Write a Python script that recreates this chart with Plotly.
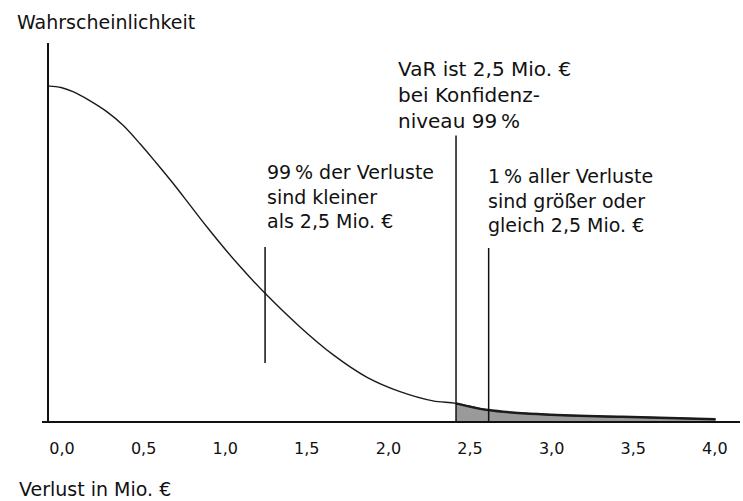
import plotly.graph_objects as go

# --- data ---
loss = [0.0, 0.08, 0.153, 0.25, 0.362, 0.46, 0.564, 0.66, 0.766, 0.87, 0.974,
        1.158, 1.330, 1.544, 1.746, 1.955, 2.157, 2.359, 2.5, 2.696, 3.02,
        3.52, 4.09]
prob = [0.399, 0.397, 0.392, 0.382, 0.368, 0.352, 0.330, 0.308, 0.283, 0.257,
        0.231, 0.188, 0.152, 0.112, 0.079, 0.052, 0.035, 0.024, 0.021, 0.013,
        0.008, 0.005, 0.002]

var_level = 2.5
tick_vals = [0.0, 0.5, 1.0, 1.5, 2.0, 2.5, 3.0, 3.5, 4.0]
tick_text = ["0,0", "0,5", "1,0", "1,5", "2,0", "2,5", "3,0", "3,5", "4,0"]

# leader lines: x, y_bottom, y_top
lead_x = [1.33, 2.5, 2.70]
lead_y0 = [0.069, 0.0, 0.0]
lead_y1 = [0.207, 0.340, 0.206]

texts = [
    "99\u2009% der Verluste<br>sind kleiner<br>als 2,5 Mio. €",
    "VaR ist 2,5 Mio. €<br>bei Konfidenz-<br>niveau 99\u2009%",
    "1\u2009% aller Verluste<br>sind größer oder<br>gleich 2,5 Mio. €",
]
text_x = [1.33, 2.132, 2.684]
text_y = [0.2667, 0.388, 0.263]
text_size = [19, 20, 19]

FONT = "DejaVu Sans"
INK = "#111111"

tail_x = [x for x in loss if x >= var_level]
tail_y = [y for x, y in zip(loss, prob) if x >= var_level]

fig = go.Figure()
# shaded tail
fig.add_trace(go.Scatter(
    x=tail_x, y=tail_y, mode="lines", fill="tozeroy",
    fillcolor="#9a9a9a", line=dict(color="#222222", width=2.5, shape="spline"),
    hoverinfo="skip", showlegend=False))
# density curve
fig.add_trace(go.Scatter(
    x=loss, y=prob, mode="lines",
    line=dict(color="#1a1a1a", width=1.4, shape="spline", smoothing=0.9),
    hoverinfo="skip", showlegend=False))
# leader lines
for lx, y0, y1 in zip(lead_x, lead_y0, lead_y1):
    fig.add_trace(go.Scatter(
        x=[lx, lx], y=[y0, y1], mode="lines",
        line=dict(color="#111111", width=1.5),
        hoverinfo="skip", showlegend=False))

# y axis line at x = 0
fig.add_shape(type="line", xref="x", yref="paper", x0=0, x1=0, y0=0, y1=1,
              line=dict(color="#111111", width=2))

for t, tx, ty, ts in zip(texts, text_x, text_y, text_size):
    fig.add_annotation(x=tx, y=ty, xref="x", yref="y", text=t, showarrow=False,
                       xanchor="left", yanchor="middle", align="left",
                       font=dict(family=FONT, size=ts, color=INK))

fig.add_annotation(x=-0.0387, y=1.0556, xref="paper", yref="paper",
                   text="Wahrscheinlichkeit", showarrow=False,
                   xanchor="left", yanchor="middle",
                   font=dict(family=FONT, size=19, color=INK))
fig.add_annotation(x=-0.0358, y=-0.18, xref="paper", yref="paper",
                   text="Verlust in Mio. €", showarrow=False,
                   xanchor="left", yanchor="middle",
                   font=dict(family=FONT, size=19, color=INK))

fig.update_layout(
    width=743, height=501,
    margin=dict(l=42, r=3, t=43, b=80),
    paper_bgcolor="white", plot_bgcolor="white",
    xaxis=dict(range=[-0.0368, 4.240], showgrid=False, zeroline=False,
               showline=True, linecolor="#111111", linewidth=2,
               tickvals=tick_vals, ticktext=tick_text, ticks="",
               ticklabelshift=14, ticklabelstandoff=12,
               tickfont=dict(family=FONT, size=16, color=INK)),
    yaxis=dict(range=[0, 0.45], showgrid=False, zeroline=False,
               showline=False, showticklabels=False, ticks=""),
)

fig.write_html("out.html",
               config={"displayModeBar": False},
               post_script="document.body.style.margin='0';"
                           "document.body.style.overflow='hidden';")
